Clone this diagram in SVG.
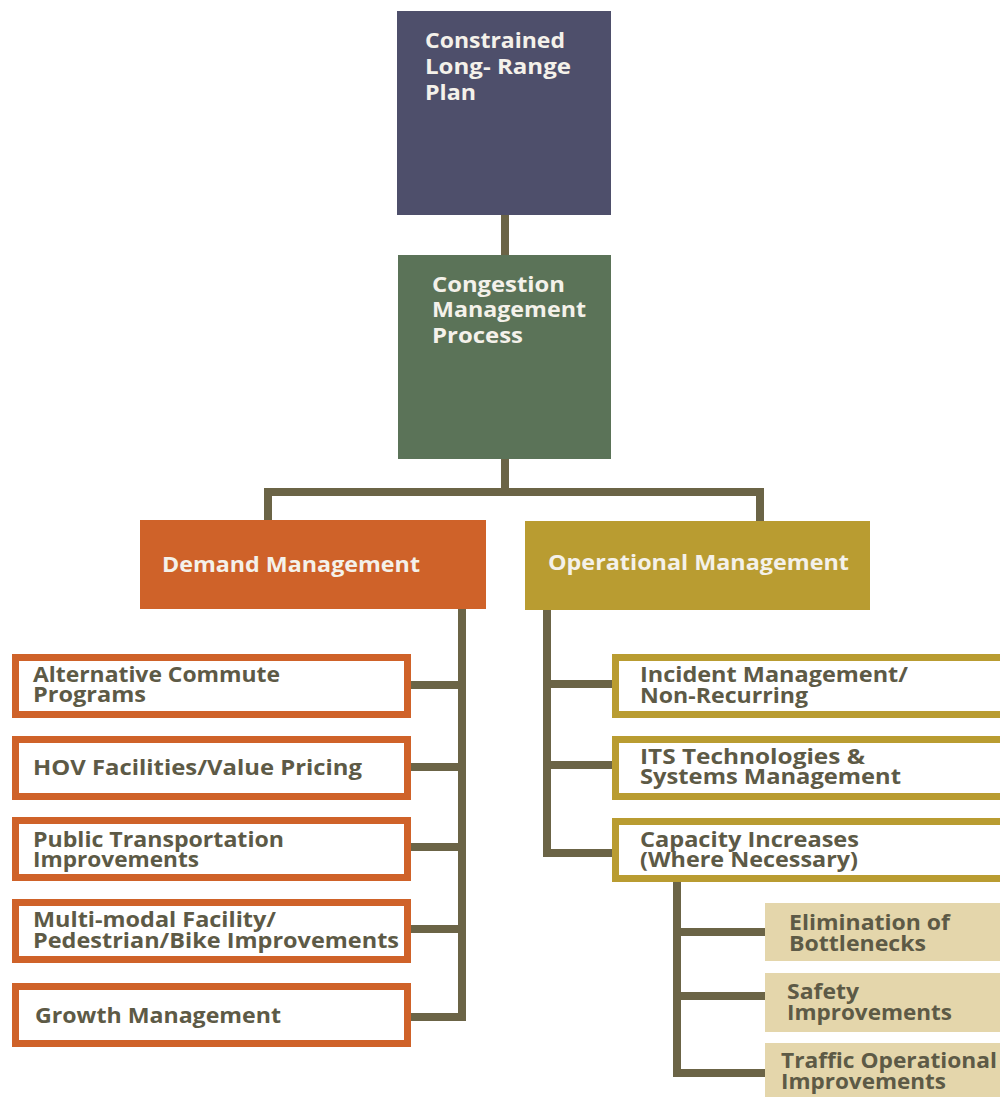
<svg xmlns="http://www.w3.org/2000/svg" width="1000" height="1097" viewBox="0 0 1000 1097">
<style>
.t{font-family:"Open Sans","Noto Sans","DejaVu Sans",sans-serif;font-weight:bold;font-size:21px}
.w{fill:#f4f1ea}
.d{fill:#5d5a46}
.ob{fill:#ffffff;stroke:#cf6229;stroke-width:7}
.yb{fill:#ffffff;stroke:#b99c31;stroke-width:7}
.tan{fill:#e4d6ab}
.c{fill:none;stroke:#6b6446;stroke-width:8}
</style>
<rect width="1000" height="1097" fill="#ffffff"/>
<g id="connectors">
<line class="c" x1="505" y1="215" x2="505" y2="256"/>
<polyline class="c" points="505,459 505,492 268,492 268,521"/>
<polyline class="c" points="505,492 760,492 760,522"/>
<line class="c" x1="462" y1="609" x2="462" y2="1021"/>
<line class="c" x1="411" y1="685" x2="466" y2="685"/>
<line class="c" x1="411" y1="767" x2="466" y2="767"/>
<line class="c" x1="411" y1="847" x2="466" y2="847"/>
<line class="c" x1="411" y1="929" x2="466" y2="929"/>
<line class="c" x1="411" y1="1017" x2="466" y2="1017"/>
<line class="c" x1="547" y1="610" x2="547" y2="857"/>
<line class="c" x1="543" y1="684" x2="612" y2="684"/>
<line class="c" x1="543" y1="765" x2="612" y2="765"/>
<line class="c" x1="543" y1="853" x2="612" y2="853"/>
<line class="c" x1="677" y1="881" x2="677" y2="1077"/>
<line class="c" x1="673" y1="932" x2="765" y2="932"/>
<line class="c" x1="673" y1="996" x2="765" y2="996"/>
<line class="c" x1="673" y1="1073" x2="765" y2="1073"/>
</g>
<g id="n-clrp">
<rect x="397" y="11" width="214" height="204" fill="#4e4f6b"/>
<text class="t w" x="425" y="48" textLength="140" lengthAdjust="spacingAndGlyphs">Constrained</text>
<text class="t w" x="425" y="74" textLength="146" lengthAdjust="spacingAndGlyphs">Long- Range</text>
<text class="t w" x="425" y="100" textLength="51" lengthAdjust="spacingAndGlyphs">Plan</text>
</g>
<g id="n-cmp">
<rect x="398" y="255" width="213" height="204" fill="#5b7358"/>
<text class="t w" x="432" y="292" textLength="133" lengthAdjust="spacingAndGlyphs">Congestion</text>
<text class="t w" x="432" y="317" textLength="154" lengthAdjust="spacingAndGlyphs">Management</text>
<text class="t w" x="432" y="343" textLength="91" lengthAdjust="spacingAndGlyphs">Process</text>
</g>
<g id="n-demand">
<rect x="140" y="520" width="346" height="89" fill="#cf6229"/>
<text class="t w" x="162" y="572" textLength="258" lengthAdjust="spacingAndGlyphs">Demand Management</text>
</g>
<g id="n-oper">
<rect x="525" y="521" width="345" height="89" fill="#b99c31"/>
<text class="t w" x="548" y="570" textLength="301" lengthAdjust="spacingAndGlyphs">Operational Management</text>
</g>
<g id="n-acp">
<rect class="ob" x="15.5" y="657.5" width="392" height="57"/>
<text class="t d" x="33" y="682" textLength="247" lengthAdjust="spacingAndGlyphs">Alternative Commute</text>
<text class="t d" x="33" y="702" textLength="113" lengthAdjust="spacingAndGlyphs">Programs</text>
</g>
<g id="n-hov">
<rect class="ob" x="15.5" y="739.5" width="392" height="57"/>
<text class="t d" x="33" y="775" textLength="329" lengthAdjust="spacingAndGlyphs">HOV Facilities/Value Pricing</text>
</g>
<g id="n-pti">
<rect class="ob" x="15.5" y="820.5" width="392" height="57"/>
<text class="t d" x="33" y="847" textLength="251" lengthAdjust="spacingAndGlyphs">Public Transportation</text>
<text class="t d" x="33" y="867" textLength="166" lengthAdjust="spacingAndGlyphs">Improvements</text>
</g>
<g id="n-mmf">
<rect class="ob" x="15.5" y="902.5" width="392" height="57"/>
<text class="t d" x="33" y="927" textLength="243" lengthAdjust="spacingAndGlyphs">Multi-modal Facility/</text>
<text class="t d" x="33" y="948" textLength="366" lengthAdjust="spacingAndGlyphs">Pedestrian/Bike Improvements</text>
</g>
<g id="n-growth">
<rect class="ob" x="15.5" y="986.5" width="392" height="57"/>
<text class="t d" x="35" y="1023" textLength="246" lengthAdjust="spacingAndGlyphs">Growth Management</text>
</g>
<g id="n-incident">
<rect class="yb" x="615.5" y="657.5" width="390" height="57"/>
<text class="t d" x="640" y="682" textLength="268" lengthAdjust="spacingAndGlyphs">Incident Management/</text>
<text class="t d" x="640" y="703" textLength="168" lengthAdjust="spacingAndGlyphs">Non-Recurring</text>
</g>
<g id="n-its">
<rect class="yb" x="615.5" y="739.5" width="390" height="57"/>
<text class="t d" x="640" y="764" textLength="225" lengthAdjust="spacingAndGlyphs">ITS Technologies &amp;</text>
<text class="t d" x="640" y="784" textLength="261" lengthAdjust="spacingAndGlyphs">Systems Management</text>
</g>
<g id="n-cap">
<rect class="yb" x="615.5" y="821.5" width="390" height="57"/>
<text class="t d" x="640" y="847" textLength="219" lengthAdjust="spacingAndGlyphs">Capacity Increases</text>
<text class="t d" x="640" y="867" textLength="218" lengthAdjust="spacingAndGlyphs">(Where Necessary)</text>
</g>
<g id="n-elim">
<rect class="tan" x="765" y="903" width="235" height="58"/>
<text class="t d" x="789" y="930" textLength="161" lengthAdjust="spacingAndGlyphs">Elimination of</text>
<text class="t d" x="789" y="951" textLength="137" lengthAdjust="spacingAndGlyphs">Bottlenecks</text>
</g>
<g id="n-safety">
<rect class="tan" x="765" y="973" width="235" height="59"/>
<text class="t d" x="787" y="999" textLength="72" lengthAdjust="spacingAndGlyphs">Safety</text>
<text class="t d" x="787" y="1020" textLength="165" lengthAdjust="spacingAndGlyphs">Improvements</text>
</g>
<g id="n-traffic">
<rect class="tan" x="765" y="1043" width="235" height="54"/>
<text class="t d" x="781" y="1068" textLength="216" lengthAdjust="spacingAndGlyphs">Traffic Operational</text>
<text class="t d" x="781" y="1089" textLength="165" lengthAdjust="spacingAndGlyphs">Improvements</text>
</g>
</svg>
